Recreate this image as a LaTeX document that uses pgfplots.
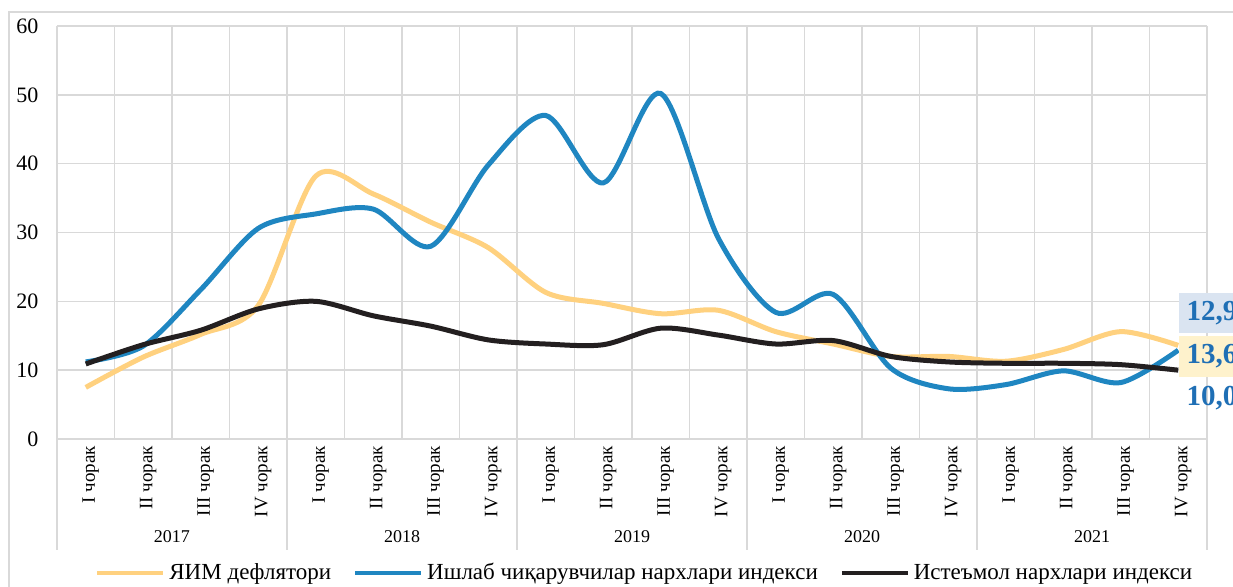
\documentclass[border=0pt]{standalone}
\usepackage{fontspec}
\setmainfont{Liberation Serif}
\usepackage{pgfplots}
\usepackage{pgfplotstable}
\pgfplotsset{compat=1.18}

\definecolor{gdpc}{HTML}{FFD17F}
\definecolor{ppic}{HTML}{1F86C1}
\definecolor{cpic}{HTML}{231F20}
\definecolor{gridc}{HTML}{D9D9D9}
\definecolor{lbltext}{HTML}{1F6FB5}
\definecolor{lblblue}{HTML}{DAE4F1}
\definecolor{lblyellow}{HTML}{FEF2CC}

% quarters 2017 I ... 2021 IV
\pgfplotstableread{
q gdp ppi cpi
0  7.5  11.2 10.9
1  11.9 13.5 13.7
2  15.2 21.7 15.8
3  19.4 30.6 18.9
4  38.2 32.7 20.0
5  35.6 33.4 17.9
6  31.5 28.0 16.4
7  27.8 39.8 14.4
8  21.3 47.0 13.8
9  19.7 37.2 13.7
10 18.2 50.2 16.1
11 18.7 29.2 15.1
12 15.6 18.4 13.8
13 13.8 21.0 14.3
14 12.0 10.3 12.0
15 12.0 7.3  11.2
16 11.3 7.9  11.0
17 13.0 9.9  11.0
18 15.6 8.2  10.8
19 13.6 12.9 10.0
}\quarters

\begin{document}
\begin{tikzpicture}
\begin{axis}[
  scale only axis,
  width=575pt, height=206.5pt,
  xmin=-0.5, xmax=19.5,
  ymin=0, ymax=60,
  ytick={0,10,...,60},
  xtick={0,...,19},
  xticklabels={I чорак, II чорак, III чорак, IV чорак,
               I чорак, II чорак, III чорак, IV чорак,
               I чорак, II чорак, III чорак, IV чорак,
               I чорак, II чорак, III чорак, IV чорак,
               I чорак, II чорак, III чорак, IV чорак},
  minor xtick={-0.5,0.5,...,19.5},
  xminorgrids, ymajorgrids,
  grid style={gridc, line width=0.75pt},
  minor grid style={gridc, line width=0.75pt},
  axis line style={draw=none},
  tick style={draw=none},
  major tick length=0pt, minor tick length=0pt,
  /pgf/number format/assume math mode=true,
  yticklabel style={font=\fontsize{11}{13}\selectfont, xshift=-5.8pt},
  xticklabel style={rotate=90, anchor=east, font=\fontsize{9.5}{10}\selectfont, yshift=-2.5pt},
  clip=false,
  legend columns=3,
  legend style={at={(0.512,-0.3245)}, anchor=center, draw=none, fill=none,
    font=\fontsize{11.5}{13}\selectfont,
    /tikz/every even column/.append style={column sep=9pt}},
  legend image code/.code={\draw[#1, line width=2pt] (0pt,0pt) -- (33pt,0pt);},
]
\addplot[gdpc, line width=2.5pt, smooth] table[x=q, y=gdp] {\quarters};
\addlegendentry{ЯИМ дефлятори}
\addplot[ppic, line width=2.5pt, smooth] table[x=q, y=ppi] {\quarters};
\addlegendentry{Ишлаб чиқарувчилар нархлари индекси}
\addplot[cpic, line width=2.5pt, smooth] table[x=q, y=cpi] {\quarters};
\addlegendentry{Истеъмол нархлари индекси}

\coordinate (bl) at (rel axis cs:0,0);

% year separators and labels
\draw[gridc, line width=0.75pt] (axis cs:-0.5,0) -- ++(0pt,-55.5pt);
\draw[gridc, line width=0.75pt] (axis cs:3.5,0) -- ++(0pt,-55.5pt);
\draw[gridc, line width=0.75pt] (axis cs:7.5,0) -- ++(0pt,-55.5pt);
\draw[gridc, line width=0.75pt] (axis cs:11.5,0) -- ++(0pt,-55.5pt);
\draw[gridc, line width=0.75pt] (axis cs:15.5,0) -- ++(0pt,-55.5pt);
\draw[gridc, line width=0.75pt] (axis cs:19.5,0) -- ++(0pt,-55.5pt);
\node[font=\fontsize{9}{10}\selectfont] at ([yshift=-49pt]axis cs:1.5,0) {2017};
\node[font=\fontsize{9}{10}\selectfont] at ([yshift=-49pt]axis cs:5.5,0) {2018};
\node[font=\fontsize{9}{10}\selectfont] at ([yshift=-49pt]axis cs:9.5,0) {2019};
\node[font=\fontsize{9}{10}\selectfont] at ([yshift=-49pt]axis cs:13.5,0) {2020};
\node[font=\fontsize{9}{10}\selectfont] at ([yshift=-49pt]axis cs:17.5,0) {2021};

% data labels of the last quarter
\node[fill=lblblue, anchor=west, text width=40pt, align=left, minimum height=20pt,
  inner xsep=4pt, text=lbltext, font=\bfseries\fontsize{14.5}{15}\selectfont]
  at (axis cs:19,18.3) {12,9};
\node[fill=lblyellow, anchor=west, text width=40pt, align=left, minimum height=20.5pt,
  inner xsep=4pt, text=lbltext, font=\bfseries\fontsize{14.5}{15}\selectfont]
  at (axis cs:19,12.0) {13,6};
\node[anchor=west, text width=40pt, align=left, minimum height=20pt,
  inner xsep=4pt, text=lbltext, font=\bfseries\fontsize{14.5}{15}\selectfont]
  at (axis cs:19,5.96) {10,0};
\end{axis}

% outer chart frame
\draw[gridc, line width=0.6pt] ([shift={(-24pt,-95pt)}]bl) rectangle ([shift={(620pt,213.5pt)}]bl);

\pgfresetboundingbox
\path[use as bounding box] ([shift={(-28.5pt,-73.5pt)}]bl) rectangle ([shift={(588pt,219.5pt)}]bl);
\end{tikzpicture}
\end{document}
